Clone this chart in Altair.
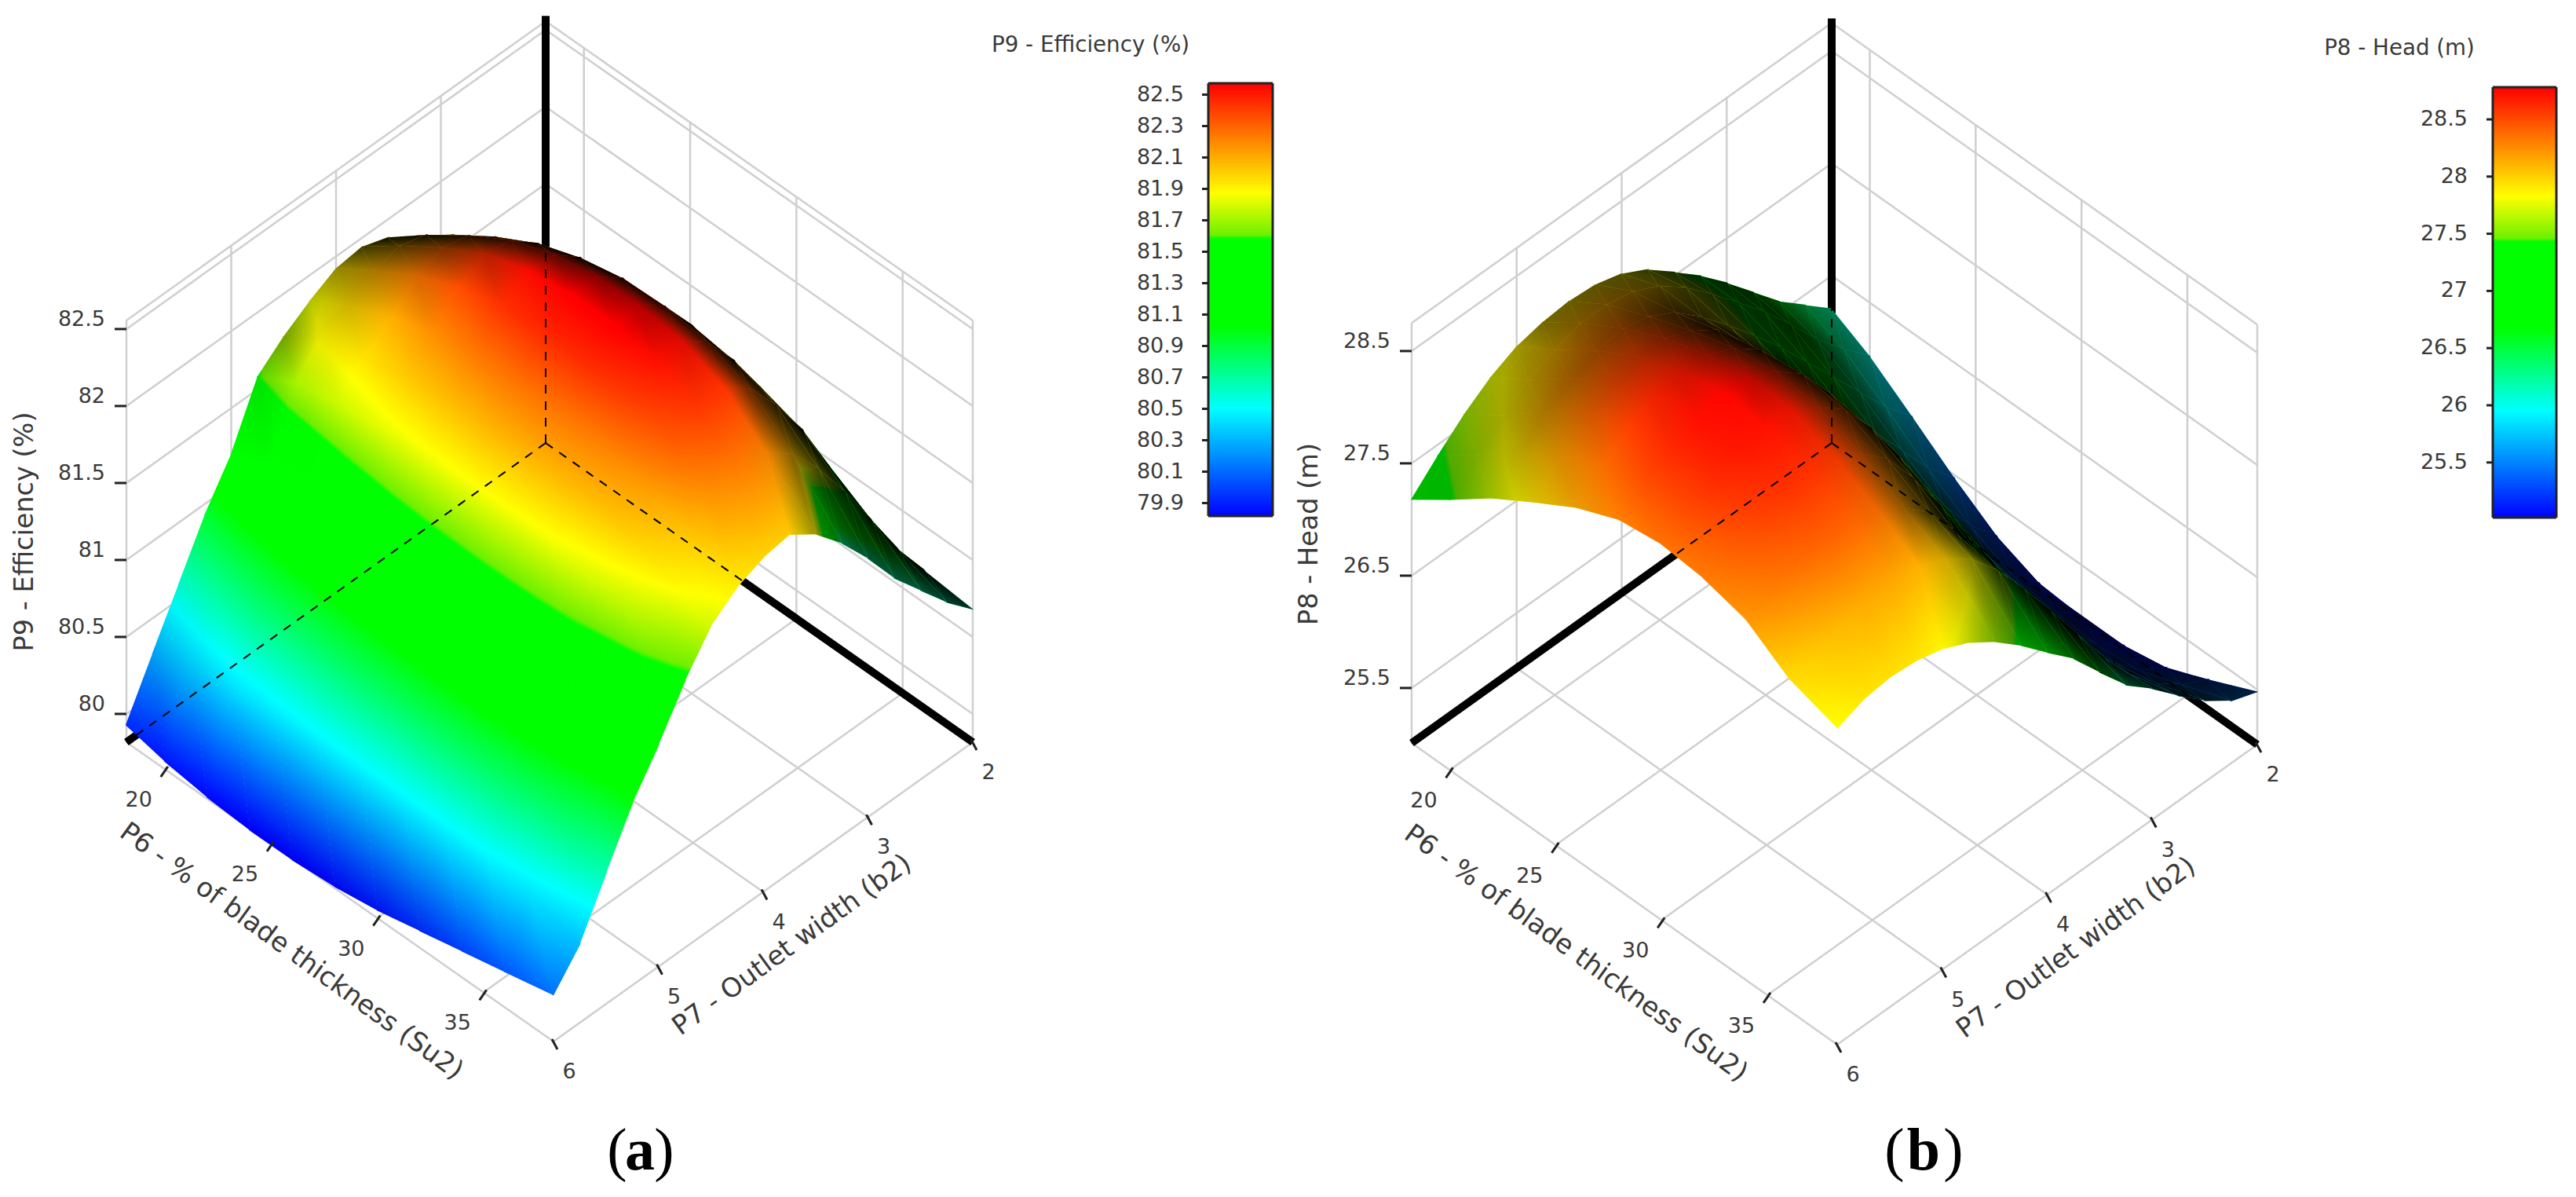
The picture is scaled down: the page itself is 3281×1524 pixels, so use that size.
import math
import altair as alt
import numpy as np
import pandas as pd

# ---------- values ----------
P6_STATIONS = [18.2, 20, 22, 24, 26, 28, 30, 32, 34, 36, 38.3]
P7_STATIONS = [2.0, 2.25, 2.5, 2.75, 3.0, 3.25, 3.5, 3.75, 4.0, 4.25, 4.5, 4.75, 5.0, 5.25, 5.5, 5.75, 6.0]

EFFICIENCY = [
    [80.35, 80.45, 80.55, 80.62, 80.68, 80.72, 80.74, 80.74, 80.73, 80.71, 80.68],
    [80.72, 80.82, 80.93, 81.02, 81.08, 81.13, 81.14, 81.12, 81.06, 80.97, 80.85],
    [81.08, 81.20, 81.32, 81.42, 81.49, 81.54, 81.55, 81.52, 81.44, 81.28, 81.05],
    [81.38, 81.52, 81.66, 81.78, 81.86, 81.91, 81.92, 81.88, 81.79, 81.58, 81.25],
    [81.60, 81.77, 81.93, 82.06, 82.15, 82.20, 82.21, 82.17, 82.07, 81.85, 81.50],
    [81.77, 81.95, 82.13, 82.28, 82.38, 82.44, 82.45, 82.41, 82.30, 82.07, 81.72],
    [81.88, 82.07, 82.26, 82.42, 82.52, 82.57, 82.58, 82.54, 82.43, 82.20, 81.90],
    [81.94, 82.12, 82.30, 82.45, 82.54, 82.58, 82.58, 82.53, 82.42, 82.23, 82.02],
    [81.92, 82.08, 82.24, 82.36, 82.44, 82.47, 82.46, 82.41, 82.32, 82.17, 81.99],
    [81.83, 81.97, 82.09, 82.18, 82.24, 82.26, 82.25, 82.21, 82.14, 82.03, 81.92],
    [81.72, 81.90, 81.95, 82.02, 82.06, 82.08, 82.08, 82.06, 82.02, 81.93, 81.79],
    [81.58, 81.72, 81.78, 81.83, 81.86, 81.87, 81.87, 81.85, 81.80, 81.72, 81.55],
    [81.20, 81.28, 81.35, 81.42, 81.47, 81.50, 81.51, 81.50, 81.47, 81.38, 81.26],
    [80.93, 81.00, 81.06, 81.10, 81.13, 81.15, 81.16, 81.16, 81.14, 81.08, 81.00],
    [80.60, 80.70, 80.77, 80.80, 80.83, 80.84, 80.85, 80.85, 80.83, 80.78, 80.67],
    [80.27, 80.38, 80.44, 80.47, 80.49, 80.50, 80.50, 80.50, 80.49, 80.43, 80.33],
    [79.93, 79.87, 79.83, 79.81, 79.81, 79.83, 79.87, 79.93, 79.99, 80.05, 80.12],
]
# the far slope at the largest P6 reads darker and cooler than its height: colour read there
EFF_FAR_TINT_P6_38 = [80.68, 80.68, 80.68, 80.68, 80.70, 80.75]

HEAD_BY_P6 = [
    [26.20, 26.40, 26.60, 26.85, 27.10, 27.33, 27.53, 27.72, 27.85, 27.92, 27.94, 27.92, 27.87, 27.76, 27.60, 27.40, 27.18],
    [26.02, 26.25, 26.50, 26.80, 27.08, 27.33, 27.57, 27.80, 27.98, 28.10, 28.15, 28.15, 28.08, 27.98, 27.83, 27.64, 27.42],
    [25.75, 26.00, 26.30, 26.60, 26.90, 27.20, 27.47, 27.73, 27.97, 28.18, 28.31, 28.37, 28.34, 28.26, 28.13, 27.93, 27.70],
    [25.47, 25.72, 26.05, 26.37, 26.68, 27.02, 27.34, 27.68, 28.01, 28.29, 28.45, 28.55, 28.55, 28.49, 28.37, 28.18, 27.93],
    [25.22, 25.48, 25.82, 26.18, 26.55, 26.95, 27.32, 27.71, 28.07, 28.38, 28.56, 28.67, 28.69, 28.65, 28.55, 28.37, 28.15],
    [25.07, 25.30, 25.65, 26.04, 26.45, 26.90, 27.30, 27.72, 28.10, 28.43, 28.62, 28.74, 28.76, 28.73, 28.64, 28.50, 28.31],
    [25.04, 25.25, 25.58, 25.94, 26.35, 26.80, 27.22, 27.65, 28.05, 28.38, 28.57, 28.70, 28.72, 28.70, 28.63, 28.51, 28.36],
    [25.05, 25.22, 25.50, 25.82, 26.20, 26.63, 27.04, 27.47, 27.87, 28.21, 28.42, 28.56, 28.60, 28.59, 28.54, 28.44, 28.32],
    [25.12, 25.26, 25.50, 25.77, 26.10, 26.48, 26.84, 27.25, 27.65, 28.00, 28.21, 28.36, 28.41, 28.41, 28.37, 28.31, 28.22],
    [25.28, 25.40, 25.58, 25.83, 26.14, 26.52, 26.89, 27.25, 27.58, 27.85, 28.02, 28.12, 28.15, 28.14, 28.10, 28.04, 27.97],
    [25.48, 25.57, 25.74, 25.95, 26.18, 26.38, 26.66, 26.95, 27.17, 27.40, 27.60, 27.76, 27.87, 27.93, 27.95, 27.92, 27.83],
]

BAR_FRACTIONS = [0, 0.253, 0.35, 0.358, 0.56, 0.75, 1]
BAR_COLORS = [(255, 0, 0), (255, 255, 0), (110, 240, 0), (0, 255, 0), (0, 255, 0), (0, 255, 255), (0, 0, 255)]

P6_TICKS = [20, 25, 30, 35]
P7_TICKS = [2, 3, 4, 5, 6]
EFF_TICKS = [80, 80.5, 81, 81.5, 82, 82.5]
EFF_TICK_TEXT = ["80", "80.5", "81", "81.5", "82", "82.5"]
EFF_BAR_TICKS = ["82.5", "82.3", "82.1", "81.9", "81.7", "81.5", "81.3", "81.1", "80.9", "80.7", "80.5", "80.3", "80.1", "79.9"]
HEAD_TICKS = [25.5, 26.5, 27.5, 28.5]
HEAD_TICK_TEXT = ["25.5", "26.5", "27.5", "28.5"]
HEAD_BAR_TICKS = ["28.5", "28", "27.5", "27", "26.5", "26", "25.5"]

P6_MIN, P6_MAX = 18.2, 38.3
W, H = 3265, 1508
GRID = "#cfcfcf"
INK = "#3a3a3a"

XS = alt.Scale(domain=[8, 8 + W], nice=False, zero=False)
YS = alt.Scale(domain=[8 + H, 8], nice=False, zero=False)
X = alt.X("x:Q", scale=XS, axis=None)
Y = alt.Y("y:Q", scale=YS, axis=None)


def rules(rows, color, width, **kw):
    df = pd.DataFrame(rows, columns=["x", "y", "x2", "y2"])
    return alt.Chart(df).mark_rule(color=color, strokeWidth=width, **kw).encode(
        x=X, y=Y, x2=alt.X2("x2:Q"), y2=alt.Y2("y2:Q"))


def texts(rows, size, font="DejaVu Sans", align="center", angle=0, weight="normal", color=INK):
    df = pd.DataFrame(rows, columns=["x", "y", "t"])
    return alt.Chart(df).mark_text(font=font, fontSize=size, align=align, baseline="middle",
                                   angle=angle, fontWeight=weight, color=color).encode(
        x=X, y=Y, text=alt.Text("t:N"))


def cmap(t):
    t = float(np.clip(t, 0, 1))
    return tuple(np.interp(t, BAR_FRACTIONS, [c[i] for c in BAR_COLORS]) for i in range(3))


def css(rgb, s=1.0):
    return "rgb(%d,%d,%d)" % tuple(int(round(v * s)) for v in rgb)


def nz(v):
    return float(v) if abs(v) > 1e-5 else 1e-5


def tri_gradient(u, w, vals, extra_knots, stop_color):
    """Linear gradient, in bounding-box units, that varies over a triangle exactly
    as the three corner values do. Returns None when the values are flat."""
    M = np.column_stack([u, w, np.ones(3)])
    try:
        a_, b_, _ = np.linalg.solve(M, vals)
    except np.linalg.LinAlgError:
        return None
    n2 = a_ ** 2 + b_ ** 2
    lo, hi = int(vals.argmin()), int(vals.argmax())
    vlo, vhi = vals[lo], vals[hi]
    if n2 < 1e-9 or vhi - vlo < 1e-5:
        return None
    d = vhi - vlo
    xa, ya = u[lo], w[lo]
    xb, yb = xa + a_ / n2 * d, ya + b_ / n2 * d
    offs = {0.0, 1.0}
    for k in extra_knots:
        if vlo < k < vhi:
            offs.add(float((k - vlo) / d))
    stops = [{"offset": round(o, 4), "color": stop_color(vlo + o * d)} for o in sorted(offs)]
    return {"gradient": "linear", "x1": nz(xa), "y1": nz(ya), "x2": nz(xb), "y2": nz(yb), "stops": stops}


def surface(z, colour_z, back, vg, vf, cz, zfloor, ctop, cbottom):
    """Triangles of the surface, back to front. Each is painted twice in one mark: once with a
    gradient of the value colours, once with a black gradient for the light falling off.
    Each outline is grown by a pixel so that no seam shows what lies behind it."""
    g = (np.array(P6_STATIONS) - P6_MIN) / (P6_MAX - P6_MIN)
    f = (np.array(P7_STATIONS) - 2) / 4
    z = np.array(z)
    gg, ff = np.meshgrid(g, f)
    sx = back[0] + vg[0] * gg + vf[0] * ff
    sy = back[1] + vg[1] * gg + vf[1] * ff - cz * (z - zfloor)
    a = (vg[0] - vf[0]) / 2
    b = (vg[1] + vf[1]) / 2
    sin_t = b / a
    cos_t = math.sqrt(1 - sin_t ** 2)
    L = a * math.sqrt(2)
    Zs = cz / cos_t
    vx = cos_t / math.sqrt(2)
    dzdf, dzdg = np.gradient(z, f, g)
    zx, zy = dzdg * Zs / L, dzdf * Zs / L
    ndv = (-zx * vx - zy * vx + sin_t) / np.sqrt(1 + zx ** 2 + zy ** 2)
    shade = np.clip(ndv / 0.68, 0, 1) ** 1.3
    depth = (gg + ff) * L * vx + Zs * (z - zfloor) * sin_t

    def tfrac(v):
        return (ctop - v) / (ctop - cbottom)

    z_knots = [ctop - k * (ctop - cbottom) for k in BAR_FRACTIONS]
    tris = []
    for j in range(z.shape[0] - 1):
        for i in range(z.shape[1] - 1):
            A, B, C, D = (j, i), (j, i + 1), (j + 1, i + 1), (j + 1, i)
            for tri in ((A, B, C), (A, C, D)):
                tris.append((sum(depth[p] for p in tri) / 3, tri))
    tris.sort(key=lambda r: r[0])

    feats = []
    for _, tri in tris:
        px = np.array([sx[p] for p in tri])
        py = np.array([sy[p] for p in tri])
        pz = np.array([colour_z[p] for p in tri])
        ps = np.array([shade[p] for p in tri])
        cx, cy = px.mean(), py.mean()
        r = np.maximum(np.hypot(px - cx, py - cy), 1e-6)
        qx = cx + (px - cx) * (1 + 1.2 / r)
        qy = cy + (py - cy) * (1 + 1.2 / r)
        x0, x1, y0, y1 = qx.min(), qx.max(), qy.min(), qy.max()
        u = (px - x0) / max(x1 - x0, 1e-6)
        w = (py - y0) / max(y1 - y0, 1e-6)
        ring = [[float(qx[k]), float(qy[k])] for k in (0, 1, 2, 0)]
        geom = {"type": "Polygon", "coordinates": [ring]}
        paint = tri_gradient(u, w, pz, z_knots, lambda v: css(cmap(tfrac(v)))) or css(cmap(tfrac(pz.mean())))
        feats.append({"type": "Feature", "geometry": geom, "properties": {"paint": paint}})
        if ps.min() < 0.995:
            dark = tri_gradient(u, w, ps, [], lambda v: "rgba(0,0,0,%.3f)" % (1 - v)) or \
                "rgba(0,0,0,%.3f)" % (1 - ps.mean())
            feats.append({"type": "Feature", "geometry": geom, "properties": {"paint": dark}})
    proj = dict(type="identity", scale=1, translate=[-8, -8])
    top = alt.Chart(alt.InlineData(values=feats, format=alt.DataFormat(type="json"))).mark_geoshape(
        strokeWidth=0).encode(
        fill=alt.Fill("properties.paint:N", scale=None)).project(**proj)
    return [top]


def panel(z, colour_z, back, vg, vf, cz, zfloor, ztop, zapex, zticks, ztext, ctop, cbottom,
          ylab_pos, ylab, bar, bar_ticks, bar_y0, bar_step, bar_lab_x, leg_pos):
    def pt(p6, p7, v):
        g = (p6 - P6_MIN) / (P6_MAX - P6_MIN)
        f = (p7 - 2) / 4
        return (back[0] + vg[0] * g + vf[0] * f, back[1] + vg[1] * g + vf[1] * f - cz * (v - zfloor))

    grid = []
    for p6 in [P6_MIN] + P6_TICKS + [P6_MAX]:
        grid.append(pt(p6, 2, zfloor) + pt(p6, 6, zfloor))
    for p7 in P7_TICKS:
        grid.append(pt(P6_MIN, p7, zfloor) + pt(P6_MAX, p7, zfloor))
    for v in list(zticks) + [ztop]:
        grid.append(pt(P6_MIN, 6, v) + pt(P6_MIN, 2, v))
        grid.append(pt(P6_MIN, 2, v) + pt(P6_MAX, 2, v))
    for p7 in P7_TICKS:
        grid.append(pt(P6_MIN, p7, zfloor) + pt(P6_MIN, p7, ztop))
    for p6 in P6_TICKS + [P6_MAX]:
        grid.append(pt(p6, 2, zfloor) + pt(p6, 2, ztop))

    thick = [pt(P6_MIN, 2, zfloor) + pt(P6_MIN, 2, zapex),
             pt(P6_MIN, 2, zfloor) + pt(P6_MAX, 2, zfloor),
             pt(P6_MIN, 2, zfloor) + pt(P6_MIN, 6, zfloor)]

    ticks, lab6, lab7, labz = [], [], [], []
    for p6 in P6_TICKS:
        x0, y0 = pt(p6, 6, zfloor)
        ticks.append((x0 + 4, y0 - 3, x0 - 5, y0 + 10))
        lab6.append((x0 - 33, y0 + 40, str(p6)))
    for p7 in P7_TICKS:
        x0, y0 = pt(P6_MAX, p7, zfloor)
        ticks.append((x0 - 2, y0 - 3, x0 + 5, y0 + 10))
        lab7.append((x0 + 20, y0 + 39, str(p7)))
    for v, s in zip(zticks, ztext):
        x0, y0 = pt(P6_MIN, 6, v)
        ticks.append((x0 - 15, y0, x0, y0))
        labz.append((x0 - 27, y0 - 12, s))

    bx0, bx1, by0, by1 = bar
    rows = np.arange(by0, by1)
    strip = pd.DataFrame({"x": bx0, "x2": bx1, "y": rows, "y2": rows + 1,
                          "t": (rows - by0) / (by1 - by0)})
    hexes = ["#%02x%02x%02x" % c for c in BAR_COLORS]
    bar_rect = alt.Chart(strip).mark_rect().encode(
        x=X, x2=alt.X2("x2:Q"), y=Y, y2=alt.Y2("y2:Q"),
        color=alt.Color("t:Q", legend=None,
                        scale=alt.Scale(domain=BAR_FRACTIONS, range=hexes, interpolate="rgb")))
    frame = rules([(bx0, by0, bx1, by0), (bx0, by1, bx1, by1), (bx0, by0, bx0, by1), (bx1, by0, bx1, by1)],
                  "#222222", 3)
    bt, bl = [], []
    for n, s in enumerate(bar_ticks):
        yy = bar_y0 + n * bar_step
        bt.append((bx0 - 8, yy, bx0, yy))
        bl.append((bar_lab_x, yy, s))

    layers = [rules(grid, GRID, 2.5), rules(thick, "#000000", 10)]
    layers += surface(z, colour_z, back, vg, vf, cz, zfloor, ctop, cbottom)
    layers += [rules(thick, "#000000", 2, strokeDash=[11, 10]),
               rules(ticks, "#222222", 3),
               texts(lab6, 27), texts(lab7, 27),
               texts(labz, 27, align="right"),
               texts([ylab_pos + (ylab,)], 33.5, angle=270),
               bar_rect, frame, rules(bt, "#222222", 3),
               texts(bl, 27, align="right"),
               texts([leg_pos + (ylab,)], 27.7)]
    mid = pt((P6_MIN + P6_MAX) / 2, 6, zfloor)
    layers.append(texts([(mid[0] - 62, mid[1] + 76, "P6 - % of blade thickness (Su2)")], 34, angle=36))
    mid7 = pt(P6_MAX, 4, zfloor)
    layers.append(texts([(mid7[0] + 37, mid7[1] + 68, "P7 - Outlet width (b2)")], 34, angle=324))
    return layers


eff_colour = np.array(EFFICIENCY)
eff_colour[:6, 10] = EFF_FAR_TINT_P6_38

layers = panel(EFFICIENCY, eff_colour, (695, 564), (544, 381), (-534, 381), 196, 79.816, 82.556, 82.59,
               EFF_TICKS, EFF_TICK_TEXT, 82.57, 79.815,
               (32, 677), "P9 - Efficiency (%)", (1539, 1621, 106, 657), EFF_BAR_TICKS, 120.5, 40,
               1508, (1389, 58))
head = np.array(HEAD_BY_P6).T
layers += panel(head, head, (2333, 564), (542, 384), (-535, 382), 143, 25.01, 28.75, 28.79,
                HEAD_TICKS, HEAD_TICK_TEXT, 28.78, 25.03,
                (1668, 680), "P8 - Head (m)", (3175, 3256, 111, 659), HEAD_BAR_TICKS, 152, 72.8,
                3143, (3056, 62))

SERIF = "Liberation Serif"
layers += [
    texts([(786, 1466, "("), (846, 1466, ")"), (2413, 1466, "("), (2488, 1466, ")")], 76, font=SERIF, color="#000000"),
    texts([(815, 1466, "a"), (2450, 1466, "b")], 76, font=SERIF, weight="bold", color="#000000"),
]

chart = alt.layer(*layers).properties(width=W, height=H, padding=0, autosize=alt.AutoSizeParams(type="none")).configure_view(stroke=None)
chart.save("out.html", embed_options={"renderer": "svg", "actions": False})
